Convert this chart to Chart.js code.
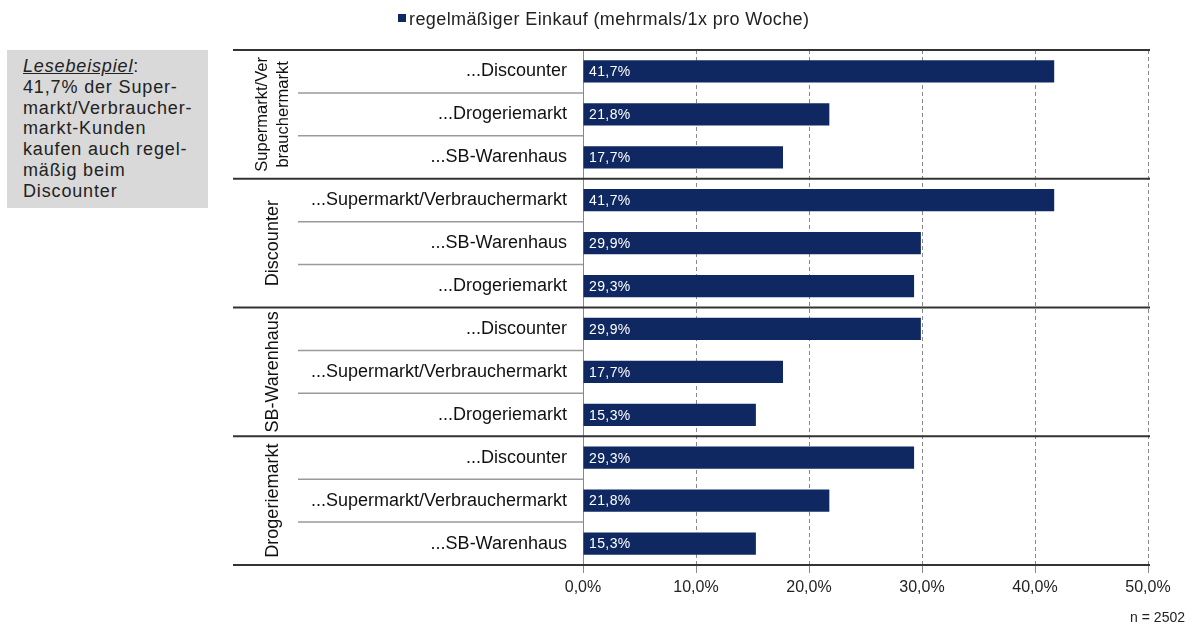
<!DOCTYPE html>
<html><head><meta charset="utf-8">
<script src="https://cdn.jsdelivr.net/npm/chart.js@4"></script>
<style>
html,body{margin:0;padding:0;background:#fff;}
#wrap{position:relative;width:1192px;height:625px;}
#note{position:absolute;left:7px;top:50px;width:201px;height:158px;background:#d9d9d9;box-sizing:border-box;padding:6px 0 0 16px;font-family:"Liberation Sans",Arial,sans-serif;font-size:18px;letter-spacing:0.85px;line-height:20.8px;color:#222;}
</style></head>
<body><div id="wrap">
<canvas id="c" width="1192" height="625"></canvas>
<div id="note"><i><u>Lesebeispiel</u></i>:<br>41,7% der Super-<br>markt/Verbraucher-<br>markt-Kunden<br>kaufen auch regel-<br>mäßig beim<br>Discounter</div>
</div>
<script>
const groups = [["Supermarkt/Ver","brauchermarkt"],["Discounter"],["SB-Warenhaus"],["Drogeriemarkt"]];
const categories = ["...Discounter","...Drogeriemarkt","...SB-Warenhaus",
  "...Supermarkt/Verbrauchermarkt","...SB-Warenhaus","...Drogeriemarkt",
  "...Discounter","...Supermarkt/Verbrauchermarkt","...Drogeriemarkt",
  "...Discounter","...Supermarkt/Verbrauchermarkt","...SB-Warenhaus"];
const values = [41.7,21.8,17.7, 41.7,29.9,29.3, 29.9,17.7,15.3, 29.3,21.8,15.3];
const seriesName = "regelmäßiger Einkauf (mehrmals/1x pro Woche)";
const xTicks = [0,10,20,30,40,50];
const nLabel = "n = 2502";

const FONT = '"Liberation Sans", Arial, sans-serif';
const NAVY = '#0f2862';
const fmt = v => v.toFixed(1).replace('.', ',') + '%';

const overlay = {
  id: 'overlay',
  afterDatasetsDraw(chart) {
    const ctx = chart.ctx, y = chart.scales.y, x = chart.scales.x, ca = chart.chartArea;
    const meta = chart.getDatasetMeta(0);
    ctx.save();
    // data labels
    ctx.font = '14px ' + FONT; ctx.letterSpacing = '0.4px'; ctx.fillStyle = '#fff'; ctx.textBaseline = 'middle'; ctx.textAlign = 'left';
    meta.data.forEach((bar, i) => { ctx.fillText(fmt(values[i]), x.getPixelForValue(0) + 6, bar.y + 1); });
    ctx.letterSpacing = '0px';
    // row separators in label area
    const step = y.getPixelForValue(1) - y.getPixelForValue(0);
    ctx.strokeStyle = '#9a9a9a'; ctx.lineWidth = 1.5;
    for (let i = 0; i < categories.length - 1; i++) {
      if ((i + 1) % 3 === 0) continue;
      const py = y.getPixelForValue(i) + step / 2;
      ctx.beginPath(); ctx.moveTo(298, py); ctx.lineTo(ca.left, py); ctx.stroke();
    }
    // group separators
    ctx.strokeStyle = '#333'; ctx.lineWidth = 2;
    for (let g = 0; g <= groups.length; g++) {
      const py = y.getPixelForValue(g * 3) - step / 2;
      ctx.beginPath(); ctx.moveTo(233, py); ctx.lineTo(ca.right + 2, py); ctx.stroke();
    }
    // group labels
    ctx.fillStyle = '#111'; ctx.textAlign = 'center';
    groups.forEach((lines, g) => {
      const cy = y.getPixelForValue(g * 3 + 1);
      ctx.font = (lines.length > 1 ? '16.5px ' : '18px ') + FONT;
      ctx.save(); ctx.translate(273, cy); ctx.rotate(-Math.PI / 2);
      const lh = 21;
      lines.forEach((t, k) => ctx.fillText(t, 0, (k - (lines.length - 1) / 2) * lh));
      ctx.restore();
    });
    // legend
    ctx.fillStyle = NAVY; ctx.fillRect(398, 14, 8, 8);
    ctx.fillStyle = '#222'; ctx.font = '18px ' + FONT; ctx.letterSpacing = '0.4px'; ctx.textAlign = 'left'; ctx.textBaseline = 'middle';
    ctx.fillText(seriesName, 409, 20);
    // n
    ctx.font = '14px ' + FONT; ctx.letterSpacing = '0px'; ctx.textAlign = 'right';
    ctx.fillText(nLabel, 1185, 618);
    ctx.restore();
  }
};

new Chart(document.getElementById('c'), {
  type: 'bar',
  data: { labels: categories, datasets: [{ label: seriesName, data: values, backgroundColor: NAVY,
    barPercentage: 0.52, categoryPercentage: 1 }] },
  options: {
    indexAxis: 'y', responsive: false, animation: false,
    layout: { padding: { top: 50, right: 44, left: 0, bottom: 0 } },
    plugins: { legend: { display: false }, tooltip: { enabled: false } },
    scales: {
      x: { min: 0, max: 50,
        afterBuildTicks: s => { s.ticks = xTicks.map(v => ({ value: v })); },
        afterFit: s => { s.height = 60; },
        grid: { color: '#888', lineWidth: 1, tickLength: 8, drawOnChartArea: true },
        border: { display: false, dash: [4, 3] },
        ticks: { callback: v => v.toFixed(1).replace('.', ',') + '%', font: { family: FONT, size: 16 }, color: '#222', padding: 5 }
      },
      y: {
        afterFit: s => { s.width = 583; },
        grid: { display: false },
        border: { display: true, color: '#888', width: 1 },
        ticks: { font: { family: FONT, size: 18 }, color: '#111', padding: 8 }
      }
    }
  },
  plugins: [overlay]
});
</script>
</body></html>
